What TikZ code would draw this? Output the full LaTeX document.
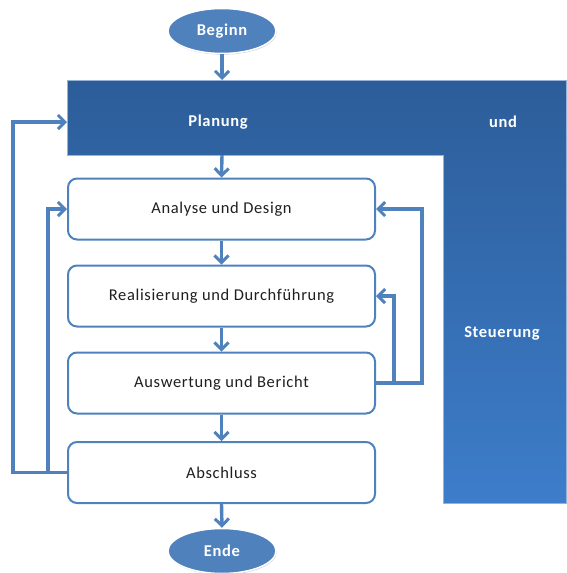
\documentclass[tikz,border=0pt]{standalone}
\usepackage{fontspec}
\setmainfont{Carlito}
\newfontfamily\boxfont[LetterSpace=4]{Carlito}
\usetikzlibrary{arrows.meta,shapes.geometric,shadows}
\definecolor{accblue}{HTML}{4F81BD}
\definecolor{darkband}{HTML}{2C5D99}
\definecolor{lightband}{HTML}{3D7DCA}
\definecolor{txtdark}{HTML}{1F1F1F}
\tikzset{
  x=1pt,y=-1pt,
  flow/.style={draw=accblue,line width=3.4pt,-{Straight Barb[length=7pt,width=14pt,line width=3pt]}},
  stepbox/.style={draw=accblue,line width=2pt,fill=white,rounded corners=9pt,minimum width=307pt,minimum height=61pt,inner sep=0pt,font=\boxfont\fontsize{16.5}{18}\selectfont,text=txtdark},
  terminal/.style={ellipse,fill=accblue,draw=white,line width=1.5pt,minimum width=108pt,minimum height=45pt,inner sep=0pt,font=\boxfont\bfseries\fontsize{16.5}{18}\selectfont,text=white,drop shadow={shadow xshift=0.8pt,shadow yshift=-1.2pt,opacity=0.35}},
  bandtext/.style={font=\boxfont\bfseries\fontsize{16.5}{18}\selectfont,text=white}
}
\begin{document}
\begin{tikzpicture}
\useasboundingbox (0,0) rectangle (566,573);
% L-shaped Planung und Steuerung band
\shade[top color=darkband,bottom color=lightband,draw=accblue!60,line width=0.5pt]
  (67,80) -- (566,80) -- (566,503) -- (443,503) -- (443,155) -- (67,155) -- cycle;
\node[bandtext] (planung) at (218,122) {Planung};
\node[bandtext] (und) at (503,122) {und};
\node[bandtext] (steuerung) at (502,333) {Steuerung};
\coordinate (plantop) at (222,80);
\coordinate (planbot) at (222,155);
\coordinate (planleft) at (67,122);
% terminals
\node[terminal] (beginn) at (222,31) {Beginn};
\node[terminal] (ende) at (222,551) {Ende};
% steps
\node[stepbox] (analyse) at (221.5,209) {Analyse und Design};
\node[stepbox] (real) at (221.5,296) {Realisierung und Durchführung};
\node[stepbox] (ausw) at (221.5,383) {Auswertung und Bericht};
\node[stepbox] (absch) at (221.5,472.5) {Abschluss};
% main flow
\draw[flow] (beginn.south) -- (plantop);
\draw[flow] (planbot) -- (analyse.north);
\draw[flow] (analyse.south) -- (real.north);
\draw[flow] (real.south) -- (ausw.north);
\draw[flow] (ausw.south) -- (absch.north);
\draw[flow] (absch.south) -- (ende.north);
% feedback loops, left
\draw[flow] (absch.west) -| (13,122) -- (planleft);
\draw[flow] (absch.west) -| (48,209) -- (analyse.west);
% feedback loops, right
\draw[flow] (ausw.east) -| (394,296) -- (real.east);
\draw[flow] (ausw.east) -| (422,209) -- (analyse.east);
\end{tikzpicture}
\end{document}
